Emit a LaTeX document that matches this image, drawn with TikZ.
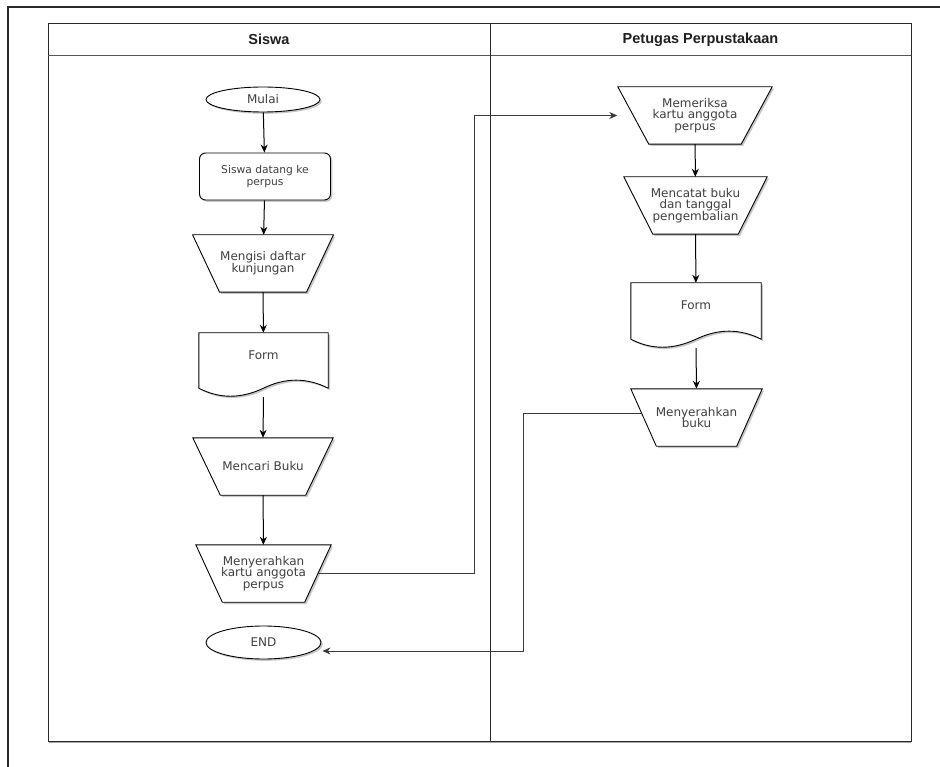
\documentclass[tikz,border=0pt]{standalone}
\usepackage{fontspec}
\setmainfont{DejaVu Sans}
\newfontfamily\headfont{Liberation Sans}
\usetikzlibrary{shapes.geometric,arrows.meta,shadows,calc}
\pgfdeclarelayer{bg}
\pgfsetlayers{bg,main}
\definecolor{textgray}{HTML}{404040}
\definecolor{linkgray}{HTML}{3A3A3A}
\definecolor{framegray}{HTML}{2A2A2A}
\tikzset{
  softshadow/.style={drop shadow={shadow xshift=1.8pt, shadow yshift=-1.8pt, opacity=0.22, fill=black}},
  shapeline/.style={draw=black, line width=0.9pt, fill=white, softshadow},
  nodetext/.style={text=textgray, font=\fontsize{12}{11.7}\selectfont, align=center},
  manualop/.style={nodetext, rectangle, minimum height=57pt, inner sep=0pt},
  term/.style={shapeline, nodetext, ellipse, inner sep=0pt},
  proc/.style={shapeline, nodetext, rectangle, rounded corners=6pt, minimum width=131pt, minimum height=47pt, inner sep=0pt},
  docnode/.style={nodetext, rectangle, inner sep=0pt, text height=8.8pt, text depth=20pt},
  flow/.style={draw=black, line width=1pt, -{Stealth[length=8pt,width=7pt]}},
  link/.style={draw=linkgray, line width=1pt, -{Stealth[length=8pt,width=7pt]}},
  lanehead/.style={font=\headfont\bfseries\fontsize{14.5}{16}\selectfont, text=black!88},
}
\newcommand\ManualOutline[2]{%
  \begin{pgfonlayer}{bg}
  \path[shapeline] ($(#1.north west)+(-#2,0)$) -- ($(#1.north east)+(#2,0)$)
     -- ($(#1.south east)+(-#2,0)$) -- ($(#1.south west)+(#2,0)$) -- cycle;
  \end{pgfonlayer}}
\newcommand\DocOutline[1]{%
  \begin{pgfonlayer}{bg}
  \path[shapeline] (#1.north west) -- (#1.north east) -- ($(#1.south east)+(0,-9)$)
     .. controls ($(#1.south east)+(-21.3,-19.7)$) and ($(#1.south east)+(-43,-19.7)$) .. ($(#1.south)+(0,-9)$)
     .. controls ($(#1.south west)+(42,1.7)$) and ($(#1.south west)+(20.7,1.7)$) .. ($(#1.south west)+(0,-9)$)
     -- cycle;
  \end{pgfonlayer}}

\begin{document}
\begin{tikzpicture}[x=1pt,y=-1pt]
\useasboundingbox (0,0) rectangle (940,767);
\begin{pgfonlayer}{bg}
\fill[white] (0,0) rectangle (940,767);
\end{pgfonlayer}

% outer page frame
\draw[framegray, line width=1.3pt] (8,767) -- (8,7) -- (940,7);

% swimlane table
\draw[gray!70, line width=1.6pt] (49,742.5) -- (911,742.5);
\draw[framegray, line width=0.9pt] (48,23) rectangle (911,741);
\draw[framegray!80, line width=0.9pt] (48,55) -- (911,55);
\draw[framegray, line width=0.9pt] (490,23) -- (490,741);
\node[lanehead] (h1) at (269,39.5) {Siswa};
\node[lanehead] (h2) at (700.5,39.5) {Petugas Perpustakaan};

% left lane
\node[term, minimum width=114pt, minimum height=25pt] (mulai) at (263,99.5) {Mulai};
\node[proc, font=\fontsize{10.7}{12}\selectfont] (datang) at (265,176.5) {Siswa datang ke\\perpus};
\node[manualop, minimum width=113.5pt] (mengisi) at (263,263.5) {Mengisi daftar\\kunjungan};
\ManualOutline{mengisi}{13.5}
\node[docnode, minimum width=129pt, minimum height=64pt] (form1) at (263.5,365) {Form};
\DocOutline{form1}
\node[manualop, minimum width=112.5pt] (mencari) at (263,466.5) {Mencari Buku};
\ManualOutline{mencari}{13.75}
\node[manualop, minimum width=108.5pt] (kartu) at (263.5,573.5) {Menyerahkan\\kartu anggota\\perpus};
\ManualOutline{kartu}{13.25}
\node[term, minimum width=115pt, minimum height=33pt] (end) at (263.5,642.5) {END};

% right lane
\node[manualop, minimum width=123pt] (periksa) at (695,115.5) {Memeriksa\\kartu anggota\\perpus};
\ManualOutline{periksa}{15.5}
\node[manualop, minimum width=114pt] (catat) at (695.5,205.5) {Mencatat buku\\dan tanggal\\pengembalian};
\ManualOutline{catat}{14.5}
\node[docnode, minimum width=130pt, minimum height=65pt] (form2) at (696,315.5) {Form};
\DocOutline{form2}
\node[manualop, minimum width=105.5pt] (buku) at (696.5,417.5) {Menyerahkan\\buku};
\ManualOutline{buku}{12.75}

% connectors
\draw[flow] (mulai) -- (datang);
\draw[flow] (datang) -- (mengisi);
\draw[flow] (mengisi) -- (form1);
\draw[flow] (form1.south) -- (mencari.north);
\draw[flow] (mencari) -- (kartu);
\draw[flow] (periksa) -- (catat);
\draw[flow] (catat) -- (form2);
\draw[flow] (form2.south) -- (buku.north);

\coordinate (jA) at (474,0);
\coordinate (periksaIn) at ($(periksa.west)+(-16,0)$);
\draw[link] (kartu.east) -- (kartu.east -| jA) |- (periksaIn);

\coordinate (bukuOut) at ($(buku.west)+(-3,-4.5)$);
\coordinate (jB) at (523,0);
\coordinate (endIn) at ($(end.east)+(1,8.5)$);
\draw[link] (bukuOut) -- (bukuOut -| jB) |- (endIn);
\end{tikzpicture}
\end{document}
